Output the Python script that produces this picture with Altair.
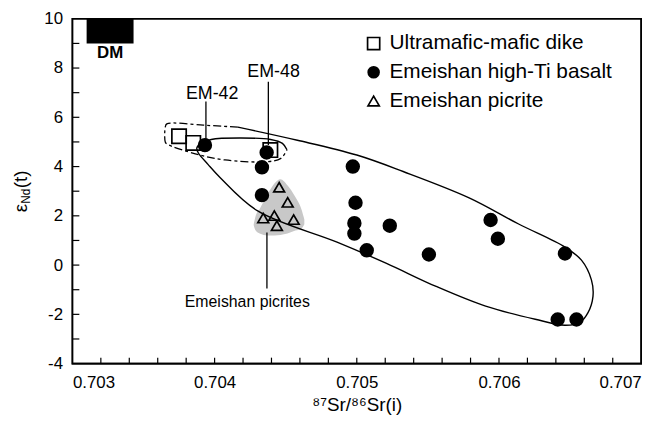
import altair as alt
import pandas as pd

# ---------------- data ----------------
dike_sr = [0.70375, 0.70385, 0.704392]
dike_nd = [5.23, 4.96, 4.67]

basalt_sr = [0.703932, 0.704366, 0.704333, 0.704333, 0.704972, 0.704991, 0.704983, 0.704983,
             0.705232, 0.70507, 0.705507, 0.705941, 0.705992, 0.706464, 0.706413, 0.706545]
basalt_nd = [4.87, 4.57, 3.97, 2.84, 4.0, 2.53, 1.70, 1.28,
             1.6, 0.6, 0.43, 1.83, 1.07, 0.47, -2.21, -2.21]

picrite_sr = [0.704454, 0.704514, 0.704342, 0.70442, 0.704556, 0.704438]
picrite_nd = [3.16, 2.55, 1.91, 2.01, 1.85, 1.6]

series_names = ["Ultramafic-mafic dike", "Emeishan high-Ti basalt", "Emeishan picrite"]
series_shapes = ["square", "circle", "triangle-up"]
series_fills = ["transparent", "black", "transparent"]
series_sizes = [210, 120, 150]

# high-Ti basalt field (solid outline)
basalt_field_sr = [0.704164, 0.704582, 0.705000, 0.705326, 0.70579, 0.706138, 0.706464, 0.70658,
                   0.70665, 0.706661, 0.706626, 0.706568, 0.706464, 0.706255, 0.705906, 0.705558,
                   0.705209, 0.704861, 0.704303, 0.704038, 0.703955, 0.703885, 0.703875, 0.703906,
                   0.703976, 0.704185, 0.704394, 0.704477, 0.704509]
basalt_field_nd = [5.6, 5.068, 4.468, 3.8, 2.732, 1.668, 0.732, 0.2,
                   -0.6, -1.268, -1.932, -2.332, -2.44, -2.2, -1.668, -0.868,
                   0.068, 0.932, 2.2, 3.56, 4.08, 4.56, 4.76, 4.94,
                   5.1, 5.16, 5.1, 4.94, 4.68]

# dike field (dashed outline)
dike_field_sr = [0.704164, 0.70392, 0.703664, 0.703653, 0.703653, 0.703664, 0.703864,
                 0.704073, 0.704373, 0.704466, 0.704509]
dike_field_nd = [5.6, 5.68, 5.732, 5.6, 5.0, 4.92, 4.52, 4.268, 4.2, 4.332, 4.68]

# picrite field (grey blob)
blob_sr = [0.704275, 0.704289, 0.704317, 0.704373, 0.704422, 0.704463, 0.704512, 0.704568, 0.70461, 0.704631]
blob_top = [1.66, 2.0, 2.28, 2.88, 3.32, 3.48, 3.24, 2.76, 2.28, 1.86]
blob_bot = [1.62, 1.4, 1.28, 1.2, 1.2, 1.22, 1.28, 1.4, 1.48, 1.66]

# depleted mantle box
dm_sr = [0.7031, 0.70343]
dm_nd = [9.0, 10.0]

# annotations
ann_text = ["EM-42", "EM-48"]
ann_sr = [0.703983, 0.704415]
ann_nd = [6.94, 7.82]
pic_label = ["Emeishan picrites"]
pic_label_sr = [0.704230]
pic_label_nd = [-1.50]
dm_label = ["DM"]
dm_label_sr = [0.703265]
dm_label_nd = [8.6]

lead_sr = [0.703939, 0.704378, 0.704368]
lead_top = [6.64, 7.44, 1.32]
lead_bot = [4.9, 4.88, -0.95]

x_labels = [0.703, 0.704, 0.705, 0.706, 0.707]
x_minor = [0.7032, 0.7034, 0.7036, 0.7038, 0.704, 0.7042, 0.7044, 0.7046, 0.7048, 0.705,
           0.7052, 0.7054, 0.7056, 0.7058, 0.706, 0.7062, 0.7064, 0.7066, 0.7068]
y_labels = [-4, -2, 0, 2, 4, 6, 8, 10]
y_minor = [-3, -2, -1, 0, 1, 2, 3, 4, 5, 6, 7, 8, 9]

# ---------------- chart ----------------
FONT = "Liberation Sans"
W, H = 574, 348
xs = alt.Scale(domain=[0.703, 0.707], nice=False, zero=False)
ys = alt.Scale(domain=[-4, 10], nice=False, zero=False)

pts = pd.DataFrame({
    "sr": dike_sr + basalt_sr + picrite_sr,
    "nd": dike_nd + basalt_nd + picrite_nd,
    "type": [series_names[0]] * len(dike_sr) + [series_names[1]] * len(basalt_sr) + [series_names[2]] * len(picrite_sr),
})
pts["ord"] = range(len(pts))

xaxis = alt.Axis(values=x_labels, labelExpr="format(datum.value, '.3f')", tickSize=0, domain=False,
                 grid=False, labelPadding=11, labelFontSize=17, labelFont=FONT, labelColor="black",
                 title="⁸⁷Sr/⁸⁶Sr(i)", titleFont=FONT, titleFontSize=19, titleFontWeight="normal",
                 titleColor="black", titlePadding=5)
yaxis = alt.Axis(values=y_labels, labelExpr="'' + datum.value", tickSize=0, domain=False, grid=False,
                 labelPadding=10, labelFontSize=17, labelFont=FONT, labelColor="black", title=None)

X = lambda f: alt.X(f, type="quantitative", scale=xs, axis=xaxis)
Y = lambda f: alt.Y(f, type="quantitative", scale=ys, axis=yaxis)

blob_df = pd.DataFrame({"sr": blob_sr, "top": blob_top, "bot": blob_bot})
blob = alt.Chart(blob_df).mark_area(color="#c8c8c8", interpolate="monotone").encode(
    x=X("sr"), y=Y("top"), y2="bot")

bf = pd.DataFrame({"sr": basalt_field_sr, "nd": basalt_field_nd, "i": range(len(basalt_field_sr))})
basalt_line = alt.Chart(bf).mark_line(color="black", strokeWidth=1.4, interpolate="catmull-rom").encode(
    x=X("sr"), y=Y("nd"), order="i:Q")

df_ = pd.DataFrame({"sr": dike_field_sr, "nd": dike_field_nd, "i": range(len(dike_field_sr))})
dike_line = alt.Chart(df_).mark_line(color="black", strokeWidth=1.3, strokeDash=[8, 3, 3, 3],
                                     interpolate="catmull-rom").encode(
    x=X("sr"), y=Y("nd"), order="i:Q")

dm_df = pd.DataFrame({"x1": [dm_sr[0]], "x2": [dm_sr[1]], "y1": [dm_nd[0]], "y2": [dm_nd[1]]})
dm = alt.Chart(dm_df).mark_rect(color="black").encode(x=X("x1"), x2="x2", y=Y("y1"), y2="y2")

lead_df = pd.DataFrame({"sr": lead_sr, "t": lead_top, "b": lead_bot})
leads = alt.Chart(lead_df).mark_rule(color="black", strokeWidth=1.3).encode(x=X("sr"), y=Y("t"), y2="b")

points = alt.Chart(pts).mark_point(stroke="black", strokeWidth=1.7, opacity=1).encode(
    x=X("sr"), y=Y("nd"),
    shape=alt.Shape("type:N", scale=alt.Scale(domain=series_names, range=series_shapes), legend=None),
    fill=alt.Fill("type:N", scale=alt.Scale(domain=series_names, range=series_fills), legend=None),
    size=alt.Size("type:N", scale=alt.Scale(domain=series_names, range=series_sizes), legend=None),
    order="ord:Q",
)

ann_df = pd.DataFrame({"sr": ann_sr, "nd": ann_nd, "t": ann_text})
ann = alt.Chart(ann_df).mark_text(font=FONT, fontSize=18, color="black").encode(
    x=X("sr"), y=Y("nd"), text="t:N")
pic_df = pd.DataFrame({"sr": pic_label_sr, "nd": pic_label_nd, "t": pic_label})
pic = alt.Chart(pic_df).mark_text(font=FONT, fontSize=16, color="black").encode(
    x=X("sr"), y=Y("nd"), text="t:N")
dml_df = pd.DataFrame({"sr": dm_label_sr, "nd": dm_label_nd, "t": dm_label})
dml = alt.Chart(dml_df).mark_text(font=FONT, fontSize=17, fontWeight="bold", color="black").encode(
    x=X("sr"), y=Y("nd"), text="t:N")

xt = alt.Chart(pd.DataFrame({"v": x_minor})).mark_rule(color="black", strokeWidth=1.2).encode(
    x=X("v"), y=alt.value(H), y2=alt.value(H - 6))
yt = alt.Chart(pd.DataFrame({"v": y_minor})).mark_rule(color="black", strokeWidth=1.2).encode(
    y=Y("v"), x=alt.value(0), x2=alt.value(7))

# plot frame
frame = alt.Chart(pd.DataFrame({"f": [0]})).mark_rect(fill="transparent", stroke="black", strokeWidth=1.6).encode(
    x=alt.value(0), x2=alt.value(W), y=alt.value(0), y2=alt.value(H))

# legend (drawn as marks, placed in the upper-right corner)
leg_x, leg_y0, leg_dy = 304, 25, 29
legend_layers = []
for i, name in enumerate(series_names):
    src = alt.Chart(pd.DataFrame({"t": [name]}))
    legend_layers.append(src.mark_point(shape=series_shapes[i], fill=series_fills[i], stroke="black",
                                        strokeWidth=1.7, opacity=1,
                                        size=[150, 120, 130][i]).encode(
        x=alt.value(leg_x), y=alt.value(leg_y0 + i * leg_dy)))
    legend_layers.append(src.mark_text(font=FONT, fontSize=21, color="black", align="left",
                                       baseline="middle").encode(
        text="t:N", x=alt.value(leg_x + 16), y=alt.value(leg_y0 + i * leg_dy)))

# y-axis title with subscript, built from pieces
ytitle_parts = ["ε", "Nd", "(t)"]
ytitle_sizes = [19, 12, 19]
ttl = alt.layer(*[
    alt.Chart(pd.DataFrame({"t": [p]})).mark_text(font=FONT, fontSize=s, angle=270, color="black",
                                                 align="center", baseline="middle").encode(
        text="t:N", x=alt.value(xv), y=alt.value(yv))
    for p, s, xv, yv in zip(ytitle_parts, ytitle_sizes, [-52, -47, -52], [191, 179, 162])
])

chart = alt.layer(blob, basalt_line, dike_line, dm, leads, points, ann, pic, dml, xt, yt, frame,
                  *legend_layers, ttl).properties(
    width=W, height=H,
    autosize=alt.AutoSizeParams(type="none"),
    padding={"left": 65, "top": 9, "right": 20, "bottom": 52},
    background="white",
).configure_view(stroke="black", strokeWidth=1.6)

chart.save("out.html", embed_options={"renderer": "svg", "actions": False})
